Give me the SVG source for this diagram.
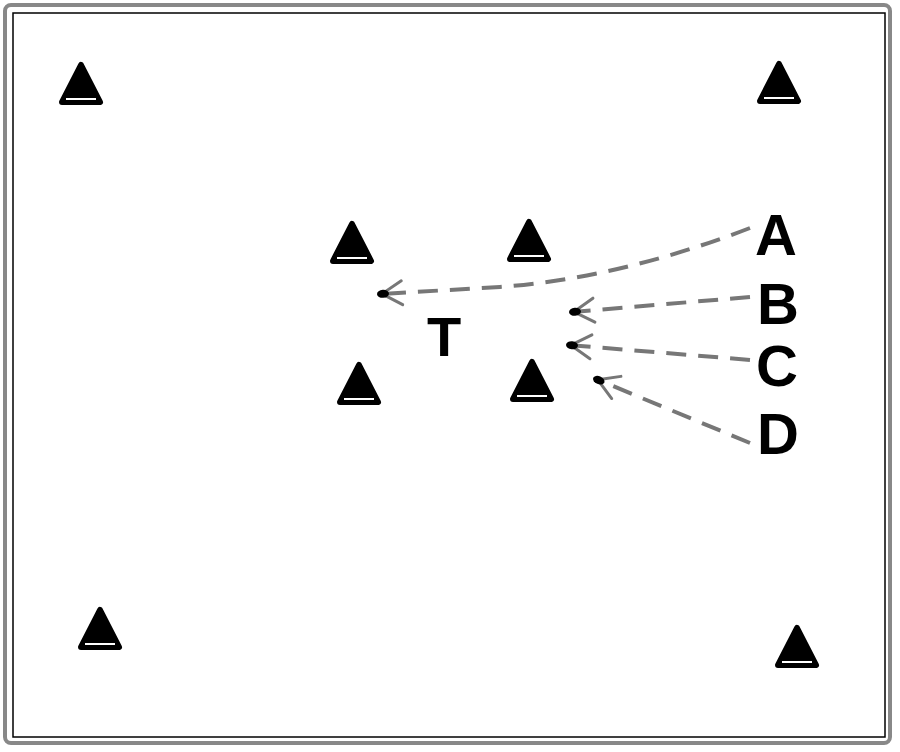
<svg xmlns="http://www.w3.org/2000/svg" width="900" height="752" viewBox="0 0 900 752">
<style>
.lbl{font-family:"Liberation Sans",Arial,sans-serif;font-weight:bold;fill:#000;}
.conn{fill:none;stroke:#777;stroke-width:4;stroke-dasharray:20 12;}
</style>
<defs>
<g id="cone">
<polygon points="0,-19 19,18 -19,18" fill="#000" stroke="#000" stroke-width="6" stroke-linejoin="round"/>
<line x1="-15" y1="15" x2="15" y2="15" stroke="#fff" stroke-width="2"/>
</g>
<marker id="ah" markerUnits="userSpaceOnUse" markerWidth="34" markerHeight="34" viewBox="-28 -17 34 34" refX="0" refY="0" orient="auto">
<path d="M-22,-12 L-2,0 L-22,12" fill="none" stroke="#777" stroke-width="3" stroke-linecap="round" stroke-linejoin="round"/>
<ellipse cx="-3" cy="0" rx="6" ry="4" fill="#000"/>
</marker>
</defs>
<rect x="5" y="5" width="885" height="738" rx="6" fill="#fff" stroke="#888" stroke-width="4"/>
<rect x="13" y="13" width="872" height="724" fill="none" stroke="#000" stroke-width="1.5"/>
<g id="cone1"><use href="#cone" x="81" y="84"/></g>
<g id="cone2"><use href="#cone" x="779" y="83"/></g>
<g id="cone3"><use href="#cone" x="352" y="243"/></g>
<g id="cone4"><use href="#cone" x="529" y="241"/></g>
<g id="cone5"><use href="#cone" x="359" y="384"/></g>
<g id="cone6"><use href="#cone" x="532" y="381"/></g>
<g id="cone7"><use href="#cone" x="100" y="629"/></g>
<g id="cone8"><use href="#cone" x="797" y="647"/></g>
<g id="connectors">
<path class="conn" d="M750,228 Q620,278 500,287 L380,294" marker-end="url(#ah)"/>
<path class="conn" d="M750,297 L572,312" marker-end="url(#ah)"/>
<path class="conn" d="M750,360 L569,345" marker-end="url(#ah)"/>
<path class="conn" d="M750,443 L596,379" marker-end="url(#ah)"/>
</g>
<g id="labelT"><text class="lbl" x="444" y="356" font-size="56" text-anchor="middle">T</text></g>
<g id="labelA"><text class="lbl" x="776" y="255" font-size="58" text-anchor="middle">A</text></g>
<g id="labelB"><text class="lbl" x="778" y="324" font-size="58" text-anchor="middle">B</text></g>
<g id="labelC"><text class="lbl" x="777" y="386" font-size="58" text-anchor="middle">C</text></g>
<g id="labelD"><text class="lbl" x="778" y="454" font-size="58" text-anchor="middle">D</text></g>
</svg>
